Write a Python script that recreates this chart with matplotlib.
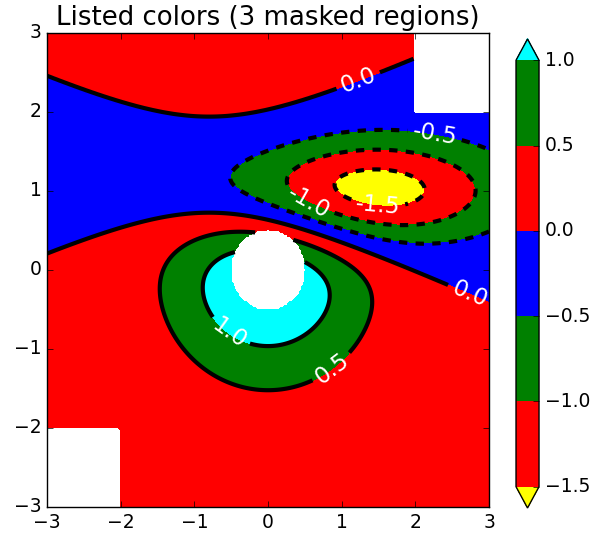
import numpy as np
import matplotlib
matplotlib.use("Agg")
import matplotlib.pyplot as plt

plt.style.use('classic')
plt.rcParams['font.family'] = ['DejaVu Sans']
plt.rcParams['figure.facecolor'] = 'white'
plt.rcParams['savefig.facecolor'] = 'white'

# ---- data ----
title = 'Listed colors (3 masked regions)'
grid_min, grid_max, grid_step = -3.0, 3.01, 0.025
peak1_sigma = (1.0, 1.0)
peak1_center = (0.0, 0.0)
peak2_sigma = (1.5, 0.5)
peak2_center = (1.0, 1.0)
amplitude = 10.0
levels = [-1.5, -1.0, -0.5, 0.0, 0.5, 1.0]
fill_colors = ['r', 'g', 'b']
under_color = 'yellow'
over_color = 'cyan'
mask_radius = 0.5
ticks = [-3, -2, -1, 0, 1, 2, 3]
cbar_ticks = [-1.5, -1.0, -0.5, 0.0, 0.5, 1.0]
label_positions = [(1.22, 2.41), (2.26, 1.68), (0.50, 0.78), (1.49, 0.80),
                   (2.74, -0.29), (-0.54, -0.82), (0.87, -1.24)]


def bivariate_normal(X, Y, sx, sy, mx, my):
    z = (X - mx) ** 2 / sx ** 2 + (Y - my) ** 2 / sy ** 2
    return np.exp(-z / 2) / (2 * np.pi * sx * sy)


x = y = np.arange(grid_min, grid_max, grid_step)
X, Y = np.meshgrid(x, y)
Z1 = bivariate_normal(X, Y, *peak1_sigma, *peak1_center)
Z2 = bivariate_normal(X, Y, *peak2_sigma, *peak2_center)
Z = amplitude * (Z1 - Z2)

nr, nc = Z.shape
Z[-nr // 6:, -nc // 6:] = np.nan
Z = np.ma.array(Z)
Z[:nr // 6, :nc // 6] = np.ma.masked
interior = np.sqrt(X ** 2 + Y ** 2) < mask_radius
Z[interior] = np.ma.masked

# ---- plot ----
fig = plt.figure(figsize=(5.96, 5.33), dpi=100)
ax = fig.add_axes([0.0789, 0.0488, 0.7416, 0.8893])
cax = fig.add_axes([0.8658, 0.0469, 0.0386, 0.880])

cs3 = ax.contourf(X, Y, Z, levels, colors=fill_colors, origin='lower', extend='both')
cs3.cmap.set_under(under_color)
cs3.cmap.set_over(over_color)

cs4 = ax.contour(X, Y, Z, levels, colors=('k',), linewidths=(3,), origin='lower')
ax.clabel(cs4, fmt='%2.1f', colors='w', fontsize=16.5, manual=label_positions)

ax.set_xlim(-3, 3)
ax.set_ylim(-3, 3)
ax.set_xticks(ticks)
ax.set_yticks(ticks)
ax.tick_params(labelsize=13.5)
ax.set_title(title, fontsize=18.7, pad=6)

cb = fig.colorbar(cs3, cax=cax)
cb.set_ticks(cbar_ticks)
cax.tick_params(labelsize=13.5)

fig.savefig('out.png', dpi=100)
